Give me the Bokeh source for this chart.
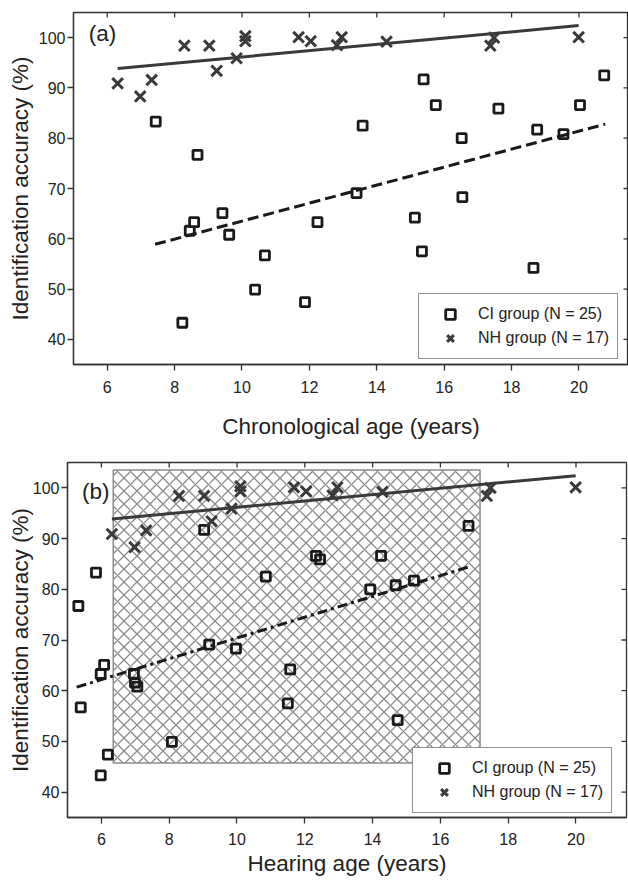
import math
from bokeh.plotting import figure
from bokeh.models import Range1d, Legend, LegendItem, Label, FixedTicker
from bokeh.embed import file_html
from bokeh.resources import INLINE

# ---------------- data ----------------
ci_acc = [83.3, 76.7, 65.1, 61.6, 63.3, 60.8, 56.7, 49.9, 43.3, 47.4, 63.3, 69.1, 82.5,
          91.7, 86.6, 80.0, 85.9, 81.7, 80.8, 86.6, 92.5, 68.3, 64.2, 57.5, 54.2]
ci_chron_age = [7.44, 8.68, 9.42, 8.45, 8.58, 9.62, 10.68, 10.39, 8.23, 11.87, 12.24, 13.40, 13.58,
                15.39, 15.75, 16.52, 17.61, 18.76, 19.54, 20.03, 20.75, 16.54, 15.13, 15.34, 18.65]
ci_hear_age = [5.84, 5.32, 6.08, 6.99, 5.98, 7.06, 5.39, 8.08, 5.98, 6.19, 6.96, 9.18, 10.85,
               9.03, 12.33, 13.93, 12.45, 15.22, 14.68, 14.25, 16.83, 9.97, 11.57, 11.50, 14.74]

nh_age = [6.31, 6.98, 7.32, 8.29, 9.03, 9.25, 9.84, 10.10, 10.10, 11.68, 12.04, 12.82, 12.96,
          14.29, 17.37, 17.48, 19.99]
nh_acc = [90.9, 88.3, 91.6, 98.4, 98.4, 93.4, 95.9, 100.3, 99.3, 100.1, 99.3, 98.5, 100.1,
          99.2, 98.4, 100.0, 100.1]

nh_fit_x = [6.31, 19.99]
nh_fit_y = [93.85, 102.4]
ci_fit_chron_x = [7.42, 20.78]
ci_fit_chron_y = [58.9, 82.8]
ci_fit_hear_x = [5.27, 16.83]
ci_fit_hear_y = [60.7, 84.4]

hatch_left, hatch_right = [6.35], [17.17]
hatch_bottom, hatch_top = [45.76], [103.5]

x_ticks = [6, 8, 10, 12, 14, 16, 18, 20]
y_ticks = [40, 50, 60, 70, 80, 90, 100]

FONT = "Liberation Sans"
AX = "#333333"
TXT = "#222222"
LABEL_SIZE = "22.5px"


def style_axes(p, xlabel, ylabel, y_std, y_lab_std, x_std, x_lab_std):
    for ax in p.xaxis + p.yaxis:
        ax.axis_line_color = AX
        ax.axis_line_width = 1.3
        ax.major_tick_line_color = AX
        ax.major_tick_line_width = 1.3
        ax.major_tick_in = 0
        ax.major_tick_out = 6
        ax.minor_tick_line_color = None
        ax.major_label_text_font = FONT
        ax.major_label_text_font_size = "16px"
        ax.major_label_text_color = TXT
        ax.axis_label_text_font = FONT
        ax.axis_label_text_font_size = LABEL_SIZE
        ax.axis_label_text_font_style = "normal"
        ax.axis_label_text_color = TXT
    p.xaxis.ticker = FixedTicker(ticks=x_ticks)
    p.yaxis.ticker = FixedTicker(ticks=y_ticks)
    p.xaxis.axis_label = xlabel
    p.yaxis.axis_label = ylabel
    p.yaxis.major_label_standoff = y_std
    p.yaxis.axis_label_standoff = y_lab_std
    p.xaxis.major_label_standoff = x_std
    p.xaxis.axis_label_standoff = x_lab_std
    p.grid.visible = False
    p.outline_line_color = AX
    p.outline_line_width = 1.3
    # mirrored inward ticks on top and right (half of each dash is clipped by the frame)
    xr, yr = p.x_range, p.y_range
    p.scatter(x_ticks, [yr.end] * len(x_ticks), marker="dash", angle=math.pi / 2,
              size=10, line_color=AX, line_width=1.3)
    p.scatter([xr.end] * len(y_ticks), y_ticks, marker="dash", angle=0,
              size=10, line_color=AX, line_width=1.3)


def add_legend(p, r_ci, r_nh, loc):
    leg = Legend(items=[LegendItem(label="CI group (N = 25)", renderers=[r_ci]),
                        LegendItem(label="NH group (N = 17)", renderers=[r_nh])],
                 location=loc, orientation="vertical")
    leg.label_text_font = FONT
    leg.label_text_font_size = "16px"
    leg.label_text_color = TXT
    leg.border_line_color = "#222222"
    leg.border_line_width = 1.2
    leg.background_fill_color = "white"
    leg.background_fill_alpha = 1.0
    leg.padding = 8
    leg.margin = 0
    leg.spacing = -3
    leg.glyph_width = 46
    leg.glyph_height = 24
    leg.label_height = 24
    leg.label_standoff = 5
    leg.label_text_baseline = "middle"
    p.add_layout(leg, "center")


# ---------------- panel (a) ----------------
p1 = figure(width=628, height=445, x_range=Range1d(5, 21.47), y_range=Range1d(35, 105),
            output_backend="svg", toolbar_location=None,
            min_border_left=73, min_border_right=0, min_border_top=12, min_border_bottom=81)
style_axes(p1, "Chronological age (years)", "Identification accuracy (%)", 2, 3, 10, 18)

r1_ci = p1.scatter(ci_chron_age, ci_acc, marker="square", size=9, line_width=2.8,
                   line_color="#1a1a1a", fill_color="white")
r1_nh = p1.scatter(nh_age, nh_acc, marker="x", size=15, line_width=3,
                   line_color="#3a3a3a")
p1.line(nh_fit_x, nh_fit_y, line_color="#3a3a3a", line_width=3)
p1.line(ci_fit_chron_x, ci_fit_chron_y, line_color="#1a1a1a", line_width=3, line_dash="11 5")
p1.add_layout(Label(x=5.45, y=100.8, text="(a)", text_font=FONT, text_font_size=LABEL_SIZE,
                    text_color=TXT, text_baseline="middle", text_align="left"))
add_legend(p1, r1_ci, r1_nh, (345, 5))

# ---------------- panel (b) ----------------
p2 = figure(width=628, height=436, x_range=Range1d(5, 21.49), y_range=Range1d(35, 105),
            output_backend="svg", toolbar_location=None,
            min_border_left=67, min_border_right=2, min_border_top=17, min_border_bottom=64)
style_axes(p2, "Hearing age (years)", "Identification accuracy (%)", 2, -3, 9, 3)

p2.quad(left=hatch_left, right=hatch_right, bottom=hatch_bottom, top=hatch_top,
        fill_alpha=0, line_color="#8c8c8c", line_width=1.5,
        hatch_pattern="x", hatch_color="#8c8c8c", hatch_weight=1.3, hatch_scale=13)
r2_ci = p2.scatter(ci_hear_age, ci_acc, marker="square", size=9, line_width=2.8,
                   line_color="#1a1a1a", fill_alpha=0)
r2_nh = p2.scatter(nh_age, nh_acc, marker="x", size=15, line_width=3,
                   line_color="#3a3a3a")
p2.line(nh_fit_x, nh_fit_y, line_color="#3a3a3a", line_width=3)
p2.line(ci_fit_hear_x, ci_fit_hear_y, line_color="#1a1a1a", line_width=3, line_dash="10 4 3 4")
p2.add_layout(Label(x=5.43, y=99.25, text="(b)", text_font=FONT, text_font_size=LABEL_SIZE,
                    text_color=TXT, text_baseline="middle", text_align="left"))
add_legend(p2, r2_ci, r2_nh, (345, 4))

# two separate roots, stacked, so that the two frames keep their own left edges
open("out.html", "w").write(file_html([p1, p2], INLINE))
